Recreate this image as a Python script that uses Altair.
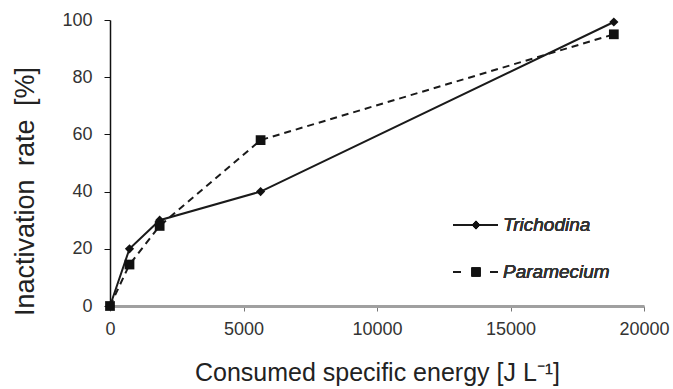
import altair as alt
import pandas as pd

energy = [0, 730, 1860, 5640, 18870]
trichodina = [0, 20, 30, 40, 99.3]
paramecium = [0, 14.5, 28, 58, 95]

df_t = pd.DataFrame({"energy": energy, "rate": trichodina})
df_p = pd.DataFrame({"energy": energy, "rate": paramecium})

FONT = "Liberation Sans"
W, H = 534, 286

x_enc = alt.X("energy:Q",
              scale=alt.Scale(domain=[0, 20000], nice=False, zero=True),
              axis=alt.Axis(values=[0, 5000, 10000, 15000, 20000], format="d",
                            title="Consumed specific energy [J L\u207b\u00b9]",
                            grid=False, domainColor="#a0a0a0", domainWidth=3,
                            tickColor="#777777", tickSize=5, labelPadding=9,
                            labelFlush=False,
                            labelFontSize=18, labelColor="#333333", labelFont=FONT,
                            titleFont=FONT, titleFontSize=25, titleFontWeight="normal",
                            titleColor="#222222", titlePadding=22))
y_enc = alt.Y("rate:Q",
              scale=alt.Scale(domain=[0, 100], nice=False),
              axis=alt.Axis(values=[0, 20, 40, 60, 80, 100],
                            title="Inactivation\u2002rate\u2002[%]",
                            grid=False, domainColor="#111111", domainWidth=1.5,
                            tickColor="#111111", tickSize=6, labelPadding=12,
                            labelFlush=False,
                            labelFontSize=18, labelColor="#333333", labelFont=FONT,
                            titleFont=FONT, titleFontSize=27, titleFontWeight="normal",
                            titleColor="#222222", titleX=-85, titleY=171,
                            titleBaseline="middle", titleAlign="center"))

line_t = alt.Chart(df_t).mark_line(color="#1a1a1a", strokeWidth=2).encode(x=x_enc, y=y_enc)
pts_t = alt.Chart(df_t).mark_point(shape="diamond", filled=True, color="#111111",
                                   size=85, opacity=1).encode(x="energy:Q", y="rate:Q")
line_p = alt.Chart(df_p).mark_line(color="#1a1a1a", strokeWidth=2,
                                   strokeDash=[7, 5]).encode(x="energy:Q", y="rate:Q")
pts_p = alt.Chart(df_p).mark_point(shape="square", filled=True, color="#111111",
                                   size=95, opacity=1).encode(x="energy:Q", y="rate:Q")

# legend (drawn manually, pixel positions within plot area)
lx0, lx1, lxm = 343, 388, 366
ly1, ly2 = 205, 252
leg_line_t = alt.Chart(df_t).mark_rule(color="#1a1a1a", strokeWidth=2).encode(
    x=alt.value(lx0), x2=alt.value(lx1), y=alt.value(ly1))
leg_pt_t = alt.Chart(df_t).mark_point(shape="diamond", filled=True, color="#111111",
                                      size=70, opacity=1).encode(
    x=alt.value(lxm), y=alt.value(ly1))
leg_line_p = alt.Chart(df_p).mark_rule(color="#1a1a1a", strokeWidth=2,
                                       strokeDash=[8, 29]).encode(
    x=alt.value(lx0), x2=alt.value(lx1), y=alt.value(ly2))
leg_pt_p = alt.Chart(df_p).mark_point(shape="square", filled=True, color="#111111",
                                      size=80, opacity=1).encode(
    x=alt.value(lxm), y=alt.value(ly2))
leg_txt_t = alt.Chart(df_t).mark_text(text="Trichodina", font=FONT, fontSize=19,
                                      fontStyle="italic", align="left", baseline="middle",
                                      color="#333333").encode(
    x=alt.value(lx1 + 5), y=alt.value(ly1))
leg_txt_p = alt.Chart(df_p).mark_text(text="Paramecium", font=FONT, fontSize=19,
                                      fontStyle="italic", align="left", baseline="middle",
                                      color="#333333").encode(
    x=alt.value(lx1 + 5), y=alt.value(ly2))

chart = alt.layer(line_t, line_p, pts_t, pts_p,
                  leg_line_t, leg_line_p, leg_pt_t, leg_pt_p, leg_txt_t, leg_txt_p
                  ).properties(
    width=W, height=H,
    autosize=alt.AutoSizeParams(type="none"),
    padding={"left": 110, "top": 20, "right": 29, "bottom": 83},
    background="white",
).configure_view(stroke=None)

chart.save("out.html", embed_options={"renderer": "svg", "actions": False})
